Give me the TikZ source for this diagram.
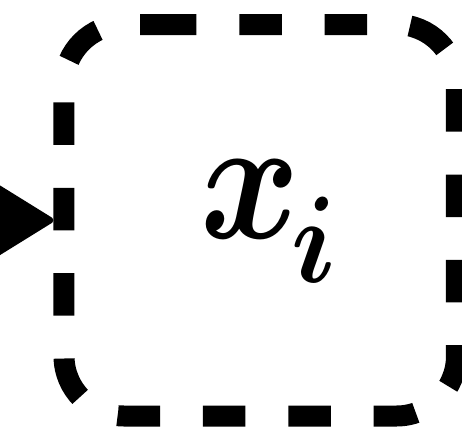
\RequirePackage{fix-cm}
\documentclass[tikz,border=0pt]{standalone}
\usetikzlibrary{arrows.meta,calc}
\tikzset{
  boxnode/.style={draw=none, minimum width=196.25pt, minimum height=195.75pt, inner sep=0pt, outer sep=0pt},
  border/.style={line width=10.5pt, rounded corners=30pt, dash pattern=on 21.25pt off 21.425pt, line cap=butt},
  lbl/.style={inner sep=0pt, outer sep=0pt, font=\fontsize{88}{100}\selectfont},
  conn/.style={line width=3pt, -{Triangle[length=45pt,width=55pt,round]}}
}
\begin{document}
\begin{tikzpicture}[x=0.5pt,y=-0.5pt]
\useasboundingbox (0,0) rectangle (462,430);
\node[boxnode] (box) at (260.25,220.25) {};
\coordinate (start) at ($(box.north west)+(90,0)$);
\draw[border] (start) -- (box.north east) -- (box.south east) -- (box.south west) -- (box.north west) -- (start);
\node[lbl, anchor=base west] (xi) at (200,238) {\scalebox{0.86}[1]{\boldmath$x$}\kern-4pt\raisebox{-22pt}{\scalebox{0.9}[1]{\boldmath$\scriptstyle i$}}};
\coordinate (src) at (-120,220.25);
\draw[conn] (src) -- ([xshift=-5.25pt]box.west);
\end{tikzpicture}
\end{document}
